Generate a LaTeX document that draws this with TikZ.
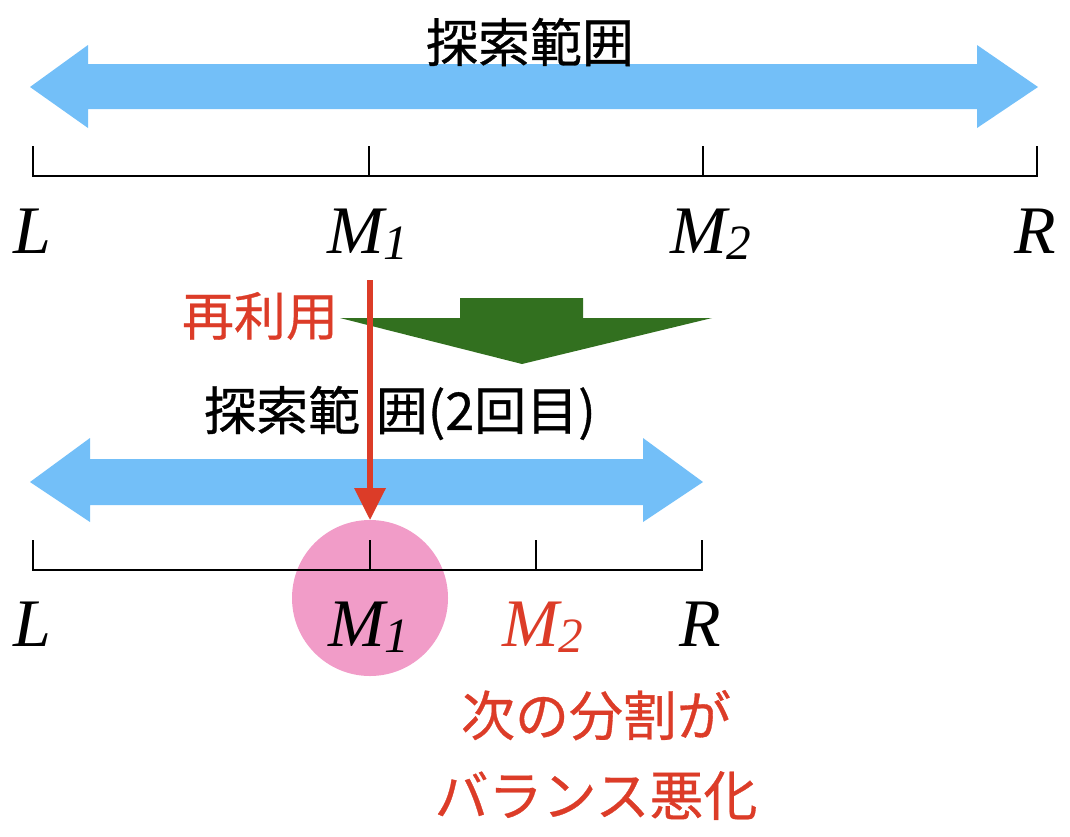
\documentclass[tikz,border=0pt]{standalone}
\usepackage{fontspec}
\setmainfont{Liberation Serif}
\newfontfamily\jp[FakeBold=0.6]{Noto Sans CJK JP}
\definecolor{arrblue}{HTML}{73BFF8}
\definecolor{myred}{HTML}{DC3C28}
\definecolor{mygreen}{HTML}{32701F}
\definecolor{mypink}{HTML}{F19CC8}
\newcommand\vlab[2]{\itshape #1\lower5pt\hbox{\fontsize{37}{37}\selectfont\itshape #2}}
\begin{document}
\begin{tikzpicture}[x=0.75pt,y=-0.75pt,
  ruler/.style={line width=1.6pt,black},
  var/.style={font=\fontsize{51}{51}\selectfont\itshape,anchor=base,inner sep=0pt},
  jtext/.style={font=\jp\fontsize{39}{47}\selectfont,inner sep=0pt,align=center},
  dblarrow/.style={fill=arrblue,draw=none}]
\useasboundingbox (0,0) rectangle (1070,836);
% ---------- top blue double arrow
\fill[dblarrow] (30,87) -- (88,45) -- (88,64) -- (977,64) -- (977,45) -- (1038,87)
  -- (977,128) -- (977,109) -- (88,109) -- (88,128) -- cycle;
\node[jtext] (title1) at (530,42) {探索範囲};
% ---------- top ruler
\coordinate (tL) at (33,176);
\coordinate (tM1) at (369,176);
\coordinate (tM2) at (703,176);
\coordinate (tR) at (1037,176);
\draw[ruler] ([yshift=22.5pt]tL) -- (tL) -- (tR) -- ([yshift=22.5pt]tR);
\draw[ruler] (tM1) -- ++(0,-30);
\draw[ruler] (tM2) -- ++(0,-30);
\node[var] (L1) at (32,253) {L};
\node[var] (M11) at (368,253) {\vlab{M}{1}};
\node[var] (M21) at (711,253) {\vlab{M}{2}};
\node[var] (R1) at (1035,253) {R};
% ---------- green transition arrow
\fill[mygreen] (460,298) -- (583,298) -- (583,318) -- (712,318) -- (522,364)
  -- (340,318) -- (460,318) -- cycle;
\node[jtext,text=myred] (reuse) at (260,316) {再利用};
% ---------- second blue double arrow
\fill[dblarrow] (30,482) -- (90,438) -- (90,459) -- (643,459) -- (643,438) -- (703,482)
  -- (643,522) -- (643,505) -- (90,505) -- (90,522) -- cycle;
\node[jtext] (title2) at (400,413) {探索範\hspace{0.3em}囲(2回目)};
% ---------- pink circle
\node[circle,fill=mypink,minimum size=156*0.75pt,inner sep=0pt] (hl) at (370,598) {};
% ---------- second ruler
\coordinate (bL) at (33,570);
\coordinate (bM1) at (370,570);
\coordinate (bM2) at (536,570);
\coordinate (bR) at (702,570);
\draw[ruler] ([yshift=22.5pt]bL) -- (bL) -- (bR) -- ([yshift=22.5pt]bR);
\draw[ruler] (bM1) -- ++(0,-30);
\draw[ruler] (bM2) -- ++(0,-30);
\node[var] (L2) at (32,646) {L};
\node[var] (M12) at (369,646) {\vlab{M}{1}};
\node[var,text=myred] (M22) at (543,646) {\vlab{M}{2}};
\node[var] (R2) at (700,646) {R};
% ---------- red reuse arrow
\coordinate (rs) at (370,280);
\draw[myred,line width=3.8pt] (rs) -- (370,495);
\fill[myred] (354,488) -- (386,488) -- (hl.north) -- cycle;
% ---------- note
\node[jtext,text=myred,font=\jp\fontsize{40.5}{60}\selectfont] (note) at (596,755) {次の分割が\\バランス悪化};
\end{tikzpicture}
\end{document}
